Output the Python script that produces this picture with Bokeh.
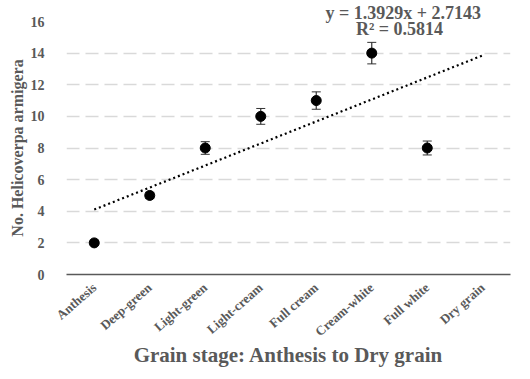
import re
import numpy as np
from bokeh.plotting import figure
from bokeh.models import Range1d, FixedTicker, Label, Whisker, ColumnDataSource
from bokeh.embed import file_html
from bokeh.resources import INLINE

stages = ["Anthesis", "Deep-green", "Light-green", "Light-cream", "Full cream",
          "Cream-white", "Full white", "Dry grain"]
counts = [2, 5, 8, 10, 11, 14, 8]
errors = [0.05, 0.2, 0.4, 0.5, 0.55, 0.68, 0.44]
y_ticks = [0, 2, 4, 6, 8, 10, 12, 14, 16]

FONT = "Liberation Serif"
GREY = "#595959"

xs = list(range(1, len(counts) + 1))
W, H = 522, 371
p = figure(width=W, height=H, output_backend="svg", toolbar_location=None,
           x_range=Range1d(0.5, len(stages) + 0.5), y_range=Range1d(0, 16),
           min_border_left=66, min_border_right=12, min_border_top=21,
           min_border_bottom=97)
p.outline_line_color = None
p.background_fill_color = "white"
p.border_fill_color = "white"

# axes
p.xaxis.ticker = FixedTicker(ticks=list(range(1, len(stages) + 1)))
p.xaxis.major_label_overrides = {i + 1: s for i, s in enumerate(stages)}
p.xaxis.major_label_orientation = 0.72
p.yaxis.ticker = FixedTicker(ticks=y_ticks)
for ax in (p.xaxis[0], p.yaxis[0]):
    ax.major_tick_line_color = None
    ax.minor_tick_line_color = None
    ax.major_label_text_font = FONT
    ax.major_label_text_font_style = "bold"
    ax.major_label_text_color = GREY
    ax.axis_label_text_font = FONT
    ax.axis_label_text_font_style = "bold"
    ax.axis_label_text_color = GREY
p.yaxis.axis_line_color = None
p.yaxis.major_label_text_font_size = "14px"
p.yaxis.major_label_standoff = 16
p.yaxis.axis_label = "No. Helicoverpa armigera"
p.yaxis.axis_label_text_font_size = "16px"
p.yaxis.axis_label_standoff = 2
p.xaxis.axis_line_color = GREY
p.xaxis.axis_line_width = 1.5
p.xaxis.major_label_text_font_size = "13px"
p.xaxis.major_label_standoff = 5
p.xaxis.axis_label = "Grain stage: Anthesis to Dry grain"
p.xaxis.axis_label_text_font_size = "21px"
p.xaxis.axis_label_standoff = -5

p.xgrid.grid_line_color = None
p.ygrid.grid_line_color = "#d9d9d9"
p.ygrid.grid_line_width = 1.5
p.ygrid.grid_line_dash = "13 6"

# trend line (least squares over observed stages, extended to last stage)
m, b = np.polyfit(xs, counts, 1)
pred = np.polyval([m, b], xs)
r2 = 1 - np.sum((np.array(counts) - pred) ** 2) / np.sum((np.array(counts) - np.mean(counts)) ** 2)
tx = np.array([1, len(stages)])
p.line(tx, m * tx + b, line_color="black", line_width=2.2, line_dash="2 3")

# error bars and points
src = ColumnDataSource(dict(x=xs, y=counts,
                            lo=[c - e for c, e in zip(counts, errors)],
                            hi=[c + e for c, e in zip(counts, errors)]))
wh = Whisker(base="x", lower="lo", upper="hi", source=src, line_color="#333333",
             line_width=1.2)
wh.upper_head.size = 9
wh.lower_head.size = 9
wh.upper_head.line_color = "#333333"
wh.lower_head.line_color = "#333333"
p.add_layout(wh)
p.scatter("x", "y", source=src, size=10, color="black")

# equation (first line as the plot title, second line inside the frame)
eq1 = f"y = {m:.4f}x + {b:.4f}"
eq2 = f"R\u00b2 = {r2:.4f}"
p.title.text = eq1
p.title.text_font = FONT
p.title.text_font_style = "bold"
p.title.text_font_size = "18px"
p.title.text_color = GREY
p.title.align = "left"
p.title.offset = 259
p.title.standoff = -3
p.add_layout(Label(x=6.5, y=15.5, text=eq2, text_font=FONT, text_font_style="bold",
                   text_font_size="18px", text_color=GREY, text_align="center",
                   text_baseline="middle"))

html = file_html(p, INLINE)
html = re.sub(r"<body([^>]*)>", r'<body\1 style="background-color:#f8f8d6;">', html, count=1)
open("out.html", "w").write(html)
